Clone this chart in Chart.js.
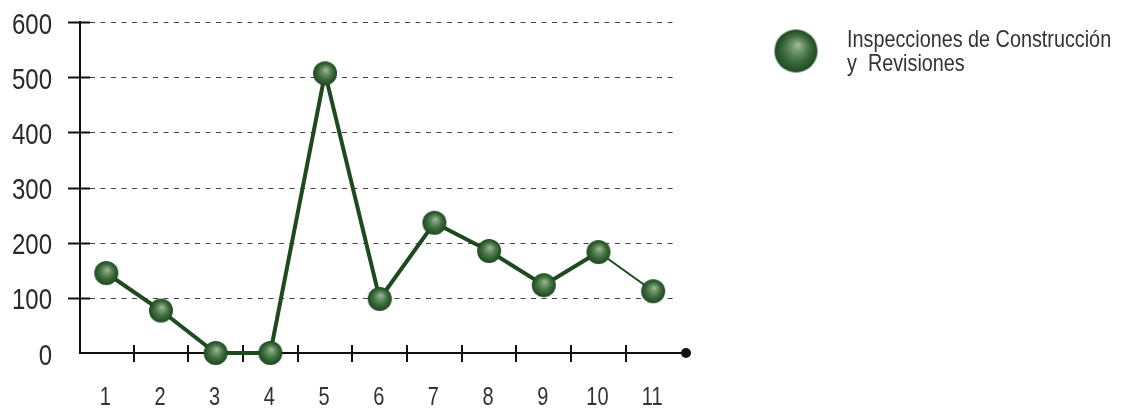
<!DOCTYPE html>
<html><head><meta charset="utf-8">
<script src="https://cdn.jsdelivr.net/npm/chart.js@4.4.1/dist/chart.umd.min.js"></script>
<style>html,body{margin:0;padding:0;background:#fff}#wrap{position:relative;width:1121px;height:411px}</style>
</head><body><div id="wrap"><canvas id="c" width="1121" height="411"></canvas></div>
<script>
const categories = ['1','2','3','4','5','6','7','8','9','10','11'];
const values = [145, 77, 0, 0, 507, 98, 236, 185, 123, 183, 112];
const yTicks = [0, 100, 200, 300, 400, 500, 600];
const seriesLabel = ['Inspecciones de Construcción', 'y  Revisiones'];

const FONT = "'Liberation Sans', Arial, sans-serif";

function makeSphere(r) {
  const s = Math.ceil(2 * r + 2);
  const cv = document.createElement('canvas');
  cv.width = s; cv.height = s;
  const g = cv.getContext('2d');
  const c = s / 2;
  const grad = g.createRadialGradient(c + 0.1 * r, c - 0.3 * r, 0, c, c, r);
  grad.addColorStop(0, '#a3bea0');
  grad.addColorStop(0.25, '#739870');
  grad.addColorStop(0.6, '#3f6d3e');
  grad.addColorStop(1, '#1c481e');
  g.fillStyle = grad;
  g.beginPath(); g.arc(c, c, r, 0, Math.PI * 2); g.fill();
  return cv;
}
const pointImg = makeSphere(12);
const legendImg = makeSphere(21.5);

function condText(ctx, text, x, y, align, sx) {
  ctx.save();
  ctx.translate(x, y);
  ctx.scale(sx, 1);
  ctx.textAlign = align;
  ctx.textBaseline = 'alphabetic';
  ctx.fillText(text, 0, 0);
  ctx.restore();
}

const decor = {
  id: 'decor',
  beforeDatasetsDraw(chart) {
    const { ctx, chartArea: a, scales: { x, y } } = chart;
    ctx.save();
    // dashed gridlines + y ticks
    y.ticks.forEach(t => {
      if (t.value === 0) return;
      const py = Math.round(y.getPixelForValue(t.value)) + 0.5;
      ctx.setLineDash([5, 5.5]);
      ctx.strokeStyle = '#444';
      ctx.lineWidth = 1;
      ctx.beginPath(); ctx.moveTo(a.left + 10, py); ctx.lineTo(678, py); ctx.stroke();
      ctx.setLineDash([]);
      ctx.strokeStyle = '#111';
      ctx.lineWidth = 2;
      ctx.beginPath(); ctx.moveTo(a.left - 12, py); ctx.lineTo(a.left + 10, py); ctx.stroke();
    });
    ctx.setLineDash([]);
    ctx.strokeStyle = '#111';
    ctx.lineWidth = 2;
    // y axis line
    ctx.beginPath(); ctx.moveTo(a.left, y.getPixelForValue(600) - 1); ctx.lineTo(a.left, a.bottom); ctx.stroke();
    // x axis line
    const by = y.getPixelForValue(0);
    ctx.beginPath(); ctx.moveTo(a.left - 1, by); ctx.lineTo(a.right, by); ctx.stroke();
    // x tick marks between categories
    for (let i = 1; i < categories.length; i++) {
      const px = Math.round(x.getPixelForValue(i + 0.5));
      ctx.beginPath(); ctx.moveTo(px, by - 8); ctx.lineTo(px, by + 9); ctx.stroke();
    }
    // end dot
    ctx.fillStyle = '#111';
    ctx.beginPath(); ctx.arc(a.right, by, 5, 0, Math.PI * 2); ctx.fill();

    // y tick labels
    ctx.fillStyle = '#2a2a2a';
    ctx.font = '30px ' + FONT;
    y.ticks.forEach(t => {
      const py = y.getPixelForValue(t.value);
      condText(ctx, String(t.value), 52, py + 11.5, 'right', 0.8);
    });
    // x tick labels
    ctx.fillStyle = '#333';
    ctx.font = '25px ' + FONT;
    x.ticks.forEach(t => {
      const px = x.getPixelForValue(t.value);
      condText(ctx, categories[t.value - 1], px - 1, 405, 'center', 0.8);
    });
    ctx.restore();
  },
  afterDraw(chart) {
    const { ctx } = chart;
    ctx.save();
    ctx.drawImage(legendImg, 796 - legendImg.width / 2, 51 - legendImg.height / 2);
    ctx.fillStyle = '#333';
    ctx.font = '24px ' + FONT;
    condText(ctx, seriesLabel[0], 847, 47, 'left', 0.825);
    condText(ctx, seriesLabel[1], 847, 71, 'left', 0.825);
    ctx.restore();
  }
};

new Chart(document.getElementById('c'), {
  type: 'line',
  data: {
    datasets: [{
      label: seriesLabel.join(' '),
      data: values.map((v, i) => ({ x: i + 1, y: v })),
      borderColor: '#1f4a20',
      borderWidth: 4,
      segment: { borderWidth: ctx => ctx.p1DataIndex === values.length - 1 ? 2 : 4 },
      pointStyle: pointImg,
      pointRadius: 12,
      tension: 0,
      clip: false
    }]
  },
  options: {
    responsive: false,
    animation: false,
    devicePixelRatio: 1,
    layout: { padding: { top: 22, right: 435, bottom: 0, left: 0 } },
    plugins: { legend: { display: false }, tooltip: { enabled: false } },
    scales: {
      x: {
        type: 'linear', min: 0.52, max: 11.6,
        grid: { display: false }, border: { display: false },
        afterBuildTicks: s => { s.ticks = categories.map((c, i) => ({ value: i + 1 })); },
        afterFit: s => { s.height = 58; },
        ticks: { display: false }
      },
      y: {
        min: 0, max: 600,
        grid: { display: false }, border: { display: false },
        afterBuildTicks: s => { s.ticks = yTicks.map(v => ({ value: v })); },
        afterFit: s => { s.width = 80; },
        ticks: { display: false }
      }
    }
  },
  plugins: [decor]
});
</script>
</body></html>
